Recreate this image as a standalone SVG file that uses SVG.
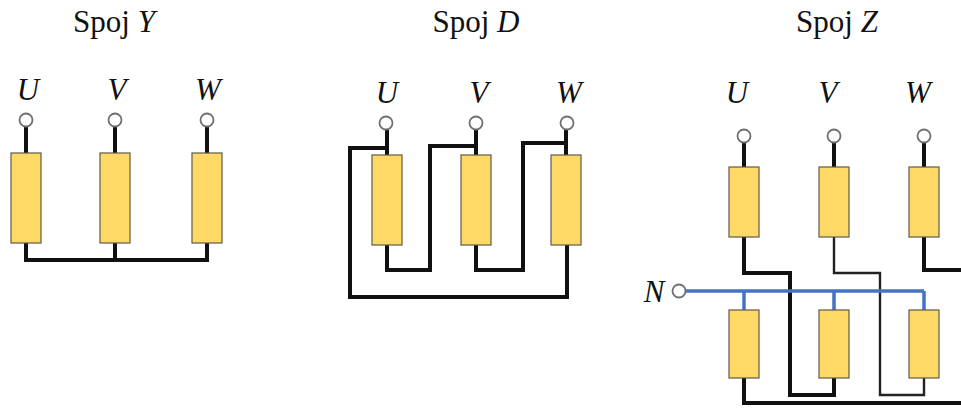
<svg xmlns="http://www.w3.org/2000/svg" width="961" height="408" viewBox="0 0 961 408">
<style>
.t{font-size:31px;fill:#111;text-anchor:middle}
.i{font-style:italic}
.r{fill:#FFD966;stroke:#5e5a4a;stroke-width:1.2}
.c{fill:#fff;stroke:#707070;stroke-width:1.8}
.w{fill:none;stroke:#111;stroke-width:4;stroke-linejoin:miter;stroke-linecap:square}
.w2{fill:none;stroke:#222;stroke-width:2.4;stroke-linecap:square}
.b{fill:none;stroke:#4472C4;stroke-width:3.5}
</style>
<rect width="961" height="408" fill="#fff"/>
<g id="connectors">
<path class="w" d="M26 127V153M115 127V153M207 127V153"/>
<path class="w" d="M26 243V260H207V243M115 243V260"/>
<path class="w" d="M387 130V155M476 130V155M566 130V155"/>
<path class="w" d="M387 148H350V297H567V245"/>
<path class="w" d="M387 245V270H430V146H476"/>
<path class="w" d="M476 245V270H523V143H566"/>
<path class="w" d="M744 143V167M834 143V167M924 143V167"/>
<path class="w" d="M744 237V273H790V395H834V378"/>
<path class="w2" d="M834 237V273H880V395H924V378"/>
<path class="w" d="M924 237V270H963"/>
<path class="w" d="M744 378V403H963"/>
<path class="b" d="M685 291H924M744 291V310M834 291V310M924 291V310"/>
</g>
<g id="titles" font-family="Liberation Serif, Times New Roman, serif">
<text class="t" x="114" y="32">Spoj <tspan class="i">Y</tspan></text>
<text class="t" x="476" y="32">Spoj <tspan class="i">D</tspan></text>
<text class="t" x="837" y="32">Spoj <tspan class="i">Z</tspan></text>
</g>
<g id="star" font-family="Liberation Serif, Times New Roman, serif">
<text class="t i" x="28" y="100">U</text>
<text class="t i" x="117" y="100">V</text>
<text class="t i" x="208" y="100">W</text>
<circle class="c" cx="26" cy="120" r="6.5"/>
<circle class="c" cx="115" cy="120" r="6.5"/>
<circle class="c" cx="207" cy="120" r="6.5"/>
<rect id="y-u" class="r" x="11" y="153" width="30" height="90"/>
<rect id="y-v" class="r" x="100" y="153" width="30" height="90"/>
<rect id="y-w" class="r" x="192" y="153" width="30" height="90"/>
</g>
<g id="delta" font-family="Liberation Serif, Times New Roman, serif">
<text class="t i" x="387" y="103">U</text>
<text class="t i" x="479" y="103">V</text>
<text class="t i" x="569" y="103">W</text>
<circle class="c" cx="386" cy="123" r="6.5"/>
<circle class="c" cx="476" cy="123" r="6.5"/>
<circle class="c" cx="567" cy="123" r="6.5"/>
<rect id="d-u" class="r" x="372" y="155" width="30" height="90"/>
<rect id="d-v" class="r" x="461" y="155" width="30" height="90"/>
<rect id="d-w" class="r" x="551" y="155" width="30" height="90"/>
</g>
<g id="zigzag" font-family="Liberation Serif, Times New Roman, serif">
<text class="t i" x="737" y="103">U</text>
<text class="t i" x="828" y="103">V</text>
<text class="t i" x="918" y="103">W</text>
<circle class="c" cx="744" cy="136" r="6.5"/>
<circle class="c" cx="834" cy="136" r="6.5"/>
<circle class="c" cx="924" cy="136" r="6.5"/>
<rect id="z-u1" class="r" x="729" y="167" width="30" height="70"/>
<rect id="z-v1" class="r" x="819" y="167" width="30" height="70"/>
<rect id="z-w1" class="r" x="909" y="167" width="30" height="70"/>
<rect id="z-u2" class="r" x="729" y="310" width="30" height="68"/>
<rect id="z-v2" class="r" x="819" y="310" width="30" height="68"/>
<rect id="z-w2" class="r" x="909" y="310" width="30" height="68"/>
</g>
<g id="neutral" font-family="Liberation Serif, Times New Roman, serif">
<text class="t i" x="654" y="302">N</text>
<circle class="c" cx="679" cy="291" r="6.5"/>
</g>
</svg>
